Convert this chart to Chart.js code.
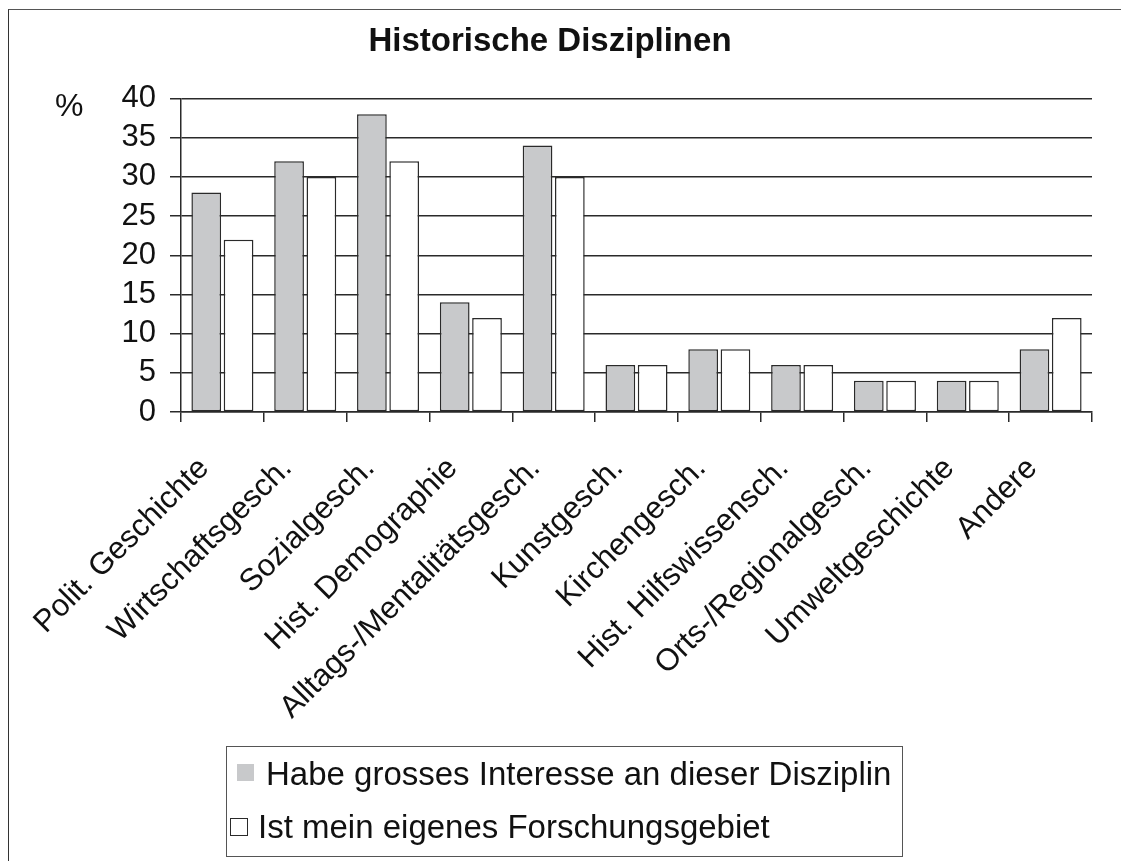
<!DOCTYPE html>
<html>
<head>
<meta charset="utf-8">
<script src="https://cdn.jsdelivr.net/npm/chart.js@4/dist/chart.umd.min.js"></script>
<style>
  html, body { margin: 0; padding: 0; background: #fff; }
  #wrap { position: relative; width: 1121px; height: 861px; overflow: hidden; }
  #frame { position: absolute; left: 8px; top: 9px; width: 1200px; height: 900px;
           border-left: 1.5px solid #333; border-top: 1.5px solid #555; }
  #legend { position: absolute; left: 226px; top: 746px; width: 677px; height: 111px;
            border: 1.5px solid #555; box-sizing: border-box;
            font-family: "Liberation Sans", Arial, sans-serif; font-size: 33px; color: #111; }
  #legend .row { position: absolute; white-space: nowrap; line-height: 36px; }
  #legend .sw { position: absolute; display: block; }
</style>
</head>
<body>
<div id="wrap">
  <div id="frame"></div>
  <canvas id="myChart" width="1121" height="861"></canvas>
  <div id="legend"></div>
</div>
<script>
const labels = [
  "Polit. Geschichte",
  "Wirtschaftsgesch.",
  "Sozialgesch.",
  "Hist. Demographie",
  "Alltags-/Mentalitätsgesch.",
  "Kunstgesch.",
  "Kirchengesch.",
  "Hist. Hilfswissensch.",
  "Orts-/Regionalgesch.",
  "Umweltgeschichte",
  "Andere",
];
const interesse = [28, 32, 38, 14, 34, 6, 8, 6, 4, 4, 8];
const forschung = [22, 30, 32, 12, 30, 6, 8, 6, 4, 4, 12];
const yTicks = [0, 5, 10, 15, 20, 25, 30, 35, 40];

const FONT = "'Liberation Sans', Arial, sans-serif";
const DARK = "#2a2a2a";

// the "%" sign left of the top y tick
const percentSign = {
  id: "percentSign",
  afterDraw(chart) {
    const ctx = chart.ctx;
    ctx.save();
    ctx.font = "32px " + FONT;
    ctx.fillStyle = "#111";
    ctx.textAlign = "left";
    ctx.textBaseline = "middle";
    ctx.fillText("%", 55, chart.chartArea.top + 9);
    ctx.restore();
  },
};

const data = {
  labels: labels,
  datasets: [
    {
      label: "Habe grosses Interesse an dieser Disziplin",
      data: interesse,
      backgroundColor: "#c8c9cb",
      borderColor: DARK,
      borderWidth: 1.5,
      borderSkipped: false,
    },
    {
      label: "Ist mein eigenes Forschungsgebiet",
      data: forschung,
      backgroundColor: "#ffffff",
      borderColor: DARK,
      borderWidth: 1.5,
      borderSkipped: false,
    },
  ],
};

const config = {
  type: "bar",
  data: data,
  plugins: [percentSign],
  options: {
    responsive: false,
    animation: false,
    datasets: {
      bar: { categoryPercentage: 0.78, barPercentage: 0.92 },
    },
    layout: { padding: { left: 8, top: 8, right: 29, bottom: 0 } },
    plugins: {
      legend: { display: false },
      tooltip: { enabled: false },
      title: {
        display: true,
        text: "Historische Disziplinen",
        color: "#111",
        font: { family: FONT, size: 33, weight: "bold" },
        padding: { top: 14, bottom: 37 },
      },
    },
    scales: {
      x: {
        afterFit: (s) => { s.height = 449; },
        grid: {
          offset: true,
          drawOnChartArea: true,
          color: (c) => (c.index === labels.length ? DARK : "rgba(0,0,0,0)"),
          tickColor: DARK,
          tickLength: 10,
          lineWidth: 1.5,
        },
        border: { display: true, color: DARK, width: 1.5 },
        ticks: {
          color: "#111",
          font: { family: FONT, size: 31 },
          minRotation: 45,
          maxRotation: 45,
          autoSkip: false,
          padding: 10,
          // trailing spaces pull each slanted label a bit down-left, like the original
          callback: (v, i) => labels[i] + "   ",
        },
      },
      y: {
        min: 0,
        max: 40,
        afterFit: (s) => { s.width = 173; },
        afterBuildTicks: (s) => { s.ticks = yTicks.map((v) => ({ value: v })); },
        grid: {
          color: DARK,
          tickColor: DARK,
          tickLength: 11,
          lineWidth: 1.5,
        },
        border: { display: true, color: DARK, width: 1.5 },
        ticks: {
          color: "#111",
          font: { family: FONT, size: 31 },
          padding: 14,
          stepSize: 5,
          autoSkip: false,
        },
      },
    },
  },
};

const chart = new Chart(document.getElementById("myChart"), config);

// legend box, built from the chart's datasets
const legendEl = document.getElementById("legend");
const rows = [
  { swLeft: 10, swTop: 17, sw: 17, textLeft: 39, textTop: 9, border: false },
  { swLeft: 3, swTop: 71, sw: 18, textLeft: 31, textTop: 62, border: true },
];
chart.data.datasets.forEach((ds, i) => {
  const r = rows[i];
  const sw = document.createElement("span");
  sw.className = "sw";
  sw.style.left = r.swLeft + "px";
  sw.style.top = r.swTop + "px";
  sw.style.width = r.sw + "px";
  sw.style.height = r.sw + "px";
  sw.style.background = ds.backgroundColor;
  sw.style.boxSizing = "border-box";
  if (r.border) sw.style.border = "1.5px solid " + DARK;
  legendEl.appendChild(sw);
  const t = document.createElement("span");
  t.className = "row";
  t.style.left = r.textLeft + "px";
  t.style.top = r.textTop + "px";
  t.textContent = ds.label;
  legendEl.appendChild(t);
});
</script>
</body>
</html>
